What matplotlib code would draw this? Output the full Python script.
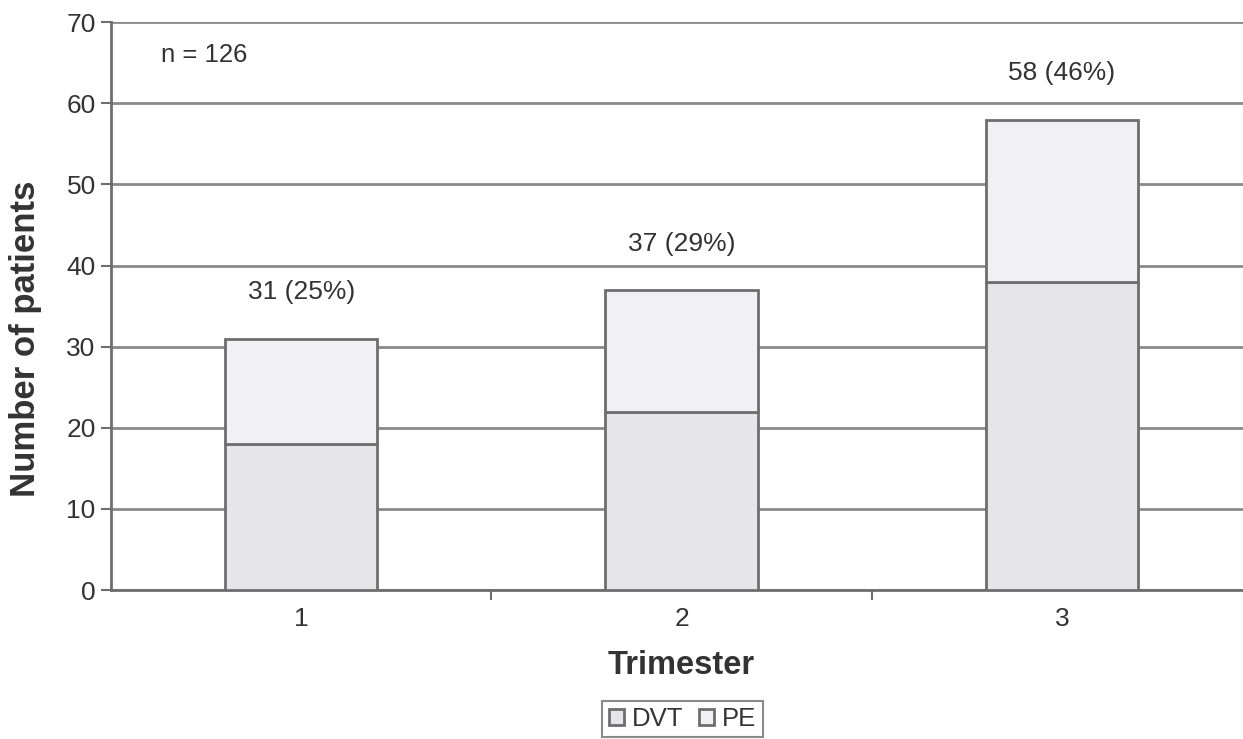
import matplotlib.pyplot as plt
import numpy as np

plt.rcParams['font.family'] = ['Liberation Sans', 'DejaVu Sans']

trimesters = ['1', '2', '3']
dvt = [18, 22, 38]
pe = [13, 15, 20]
totals = [31, 37, 58]
labels = ['31 (25%)', '37 (29%)', '58 (46%)']

txt = '#333333'
edge = '#6e6e6e'

fig = plt.figure(figsize=(12.43, 7.39), dpi=100)
ax = fig.add_axes([0.0893, 0.2016, 0.918, 0.7684])

x = np.arange(len(trimesters))
ax.bar(x, dvt, width=0.4, color='#e6e6e8', edgecolor=edge, linewidth=2, label='DVT', zorder=3)
ax.bar(x, pe, width=0.4, bottom=dvt, color='#f1f1f3', edgecolor=edge, linewidth=2, label='PE', zorder=3)

for xi, t, lab in zip(x, totals, labels):
    ax.text(xi, t + 4.2, lab, ha='center', va='bottom', fontsize=19, color=txt)

ax.text(-0.255, 65.9, 'n = 126', ha='center', va='center', fontsize=18.5, color=txt)

ax.set_xlim(-0.5, 2.5)
ax.set_ylim(0, 70)
ax.set_yticks(range(0, 71, 10))
ax.yaxis.grid(True, color='#8a8a8a', linewidth=2, zorder=0)
ax.set_axisbelow(True)

ax.set_xticks(x)
ax.set_xticklabels(trimesters)
ax.set_xticks([0.5, 1.5], minor=True)
ax.tick_params(axis='x', which='major', length=0, pad=12, labelsize=19, labelcolor=txt)
ax.tick_params(axis='x', which='minor', length=7, width=1.5, color=edge, direction='out')
ax.tick_params(axis='y', length=7, width=1.5, color=edge, labelsize=19, labelcolor=txt, pad=4)

for s in ['top', 'right']:
    ax.spines[s].set_visible(False)
for s in ['left', 'bottom']:
    ax.spines[s].set_color(edge)
    ax.spines[s].set_linewidth(2)

ax.set_xlabel('Trimester', fontsize=23.5, fontweight='bold', color=txt, labelpad=14)
ax.set_ylabel('Number of patients', fontsize=25, fontweight='bold', color=txt, va='center')
ax.yaxis.set_label_coords(-0.075, 0.442)

leg = fig.legend(loc='center', bbox_to_anchor=(0.549, 0.027), ncol=2, fontsize=18.5,
                 frameon=True, fancybox=False, edgecolor=edge, handlelength=0.6,
                 handleheight=0.6, handletextpad=0.3, columnspacing=0.6, borderpad=0.25)
leg.get_frame().set_linewidth(1.5)
for t in leg.get_texts():
    t.set_color(txt)

fig.savefig('out.png', dpi=100)
